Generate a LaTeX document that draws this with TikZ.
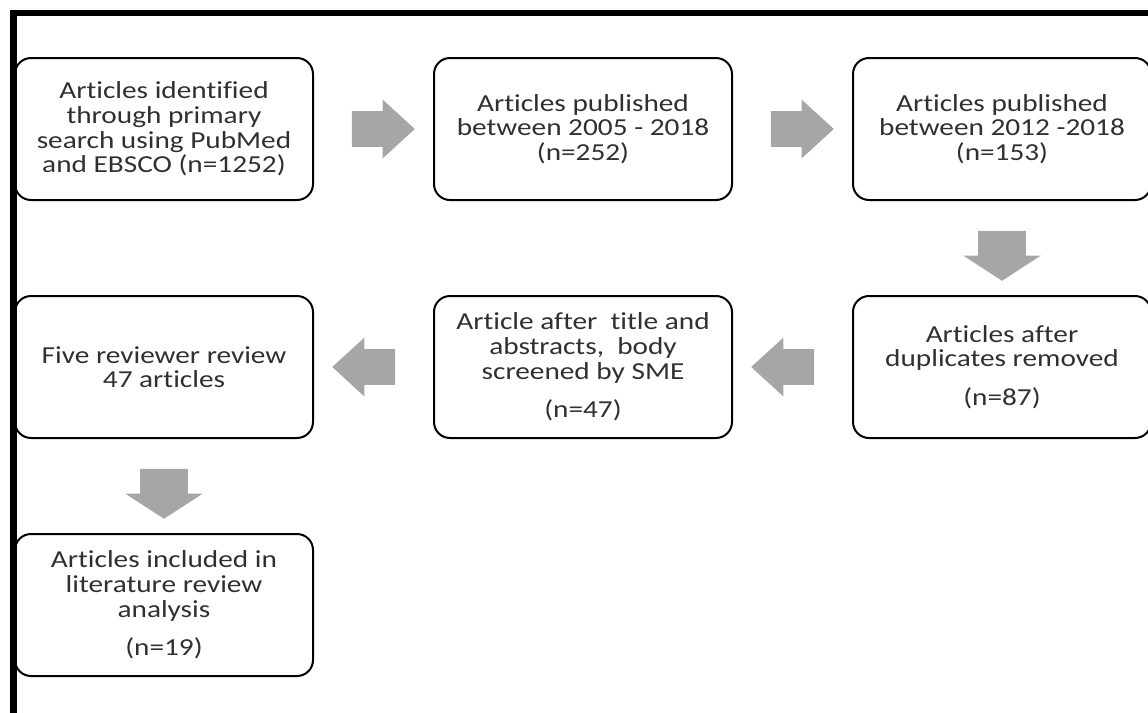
\documentclass[tikz,border=0pt]{standalone}
\usepackage{fontspec}
\newfontfamily\boxfont[FakeStretch=1.2, Ligatures=NoCommon]{Carlito}
\usepackage{tikz}
\usetikzlibrary{shapes,arrows,positioning,calc}
\definecolor{arrowgray}{RGB}{166,166,166}
\definecolor{textgray}{RGB}{48,48,48}
\tikzset{
  stage/.style={draw, line width=1pt, rectangle, rounded corners=8pt, minimum width=149pt, minimum height=71pt, align=center, text=textgray, font=\boxfont\fontsize{12.2}{12.3}\selectfont},
  flowarrow/.style={single arrow, draw=none, fill=arrowgray, inner xsep=0pt, inner ysep=8.75pt, single arrow head extend=5.75pt, single arrow tip angle=85, minimum width=1pt, minimum height=31.5pt},
  droparrow/.style={single arrow, draw=none, fill=arrowgray, inner xsep=0pt, inner ysep=11.75pt, single arrow head extend=7.5pt, single arrow tip angle=114, minimum width=1pt, minimum height=25pt, rotate=-90}
}
\begin{document}
\begin{tikzpicture}[x=0.5pt, y=-0.5pt, node distance=47pt and 59.5pt]
        \useasboundingbox (0,0) rectangle (1148,713);

        % Frame
        \coordinate (frameR) at (1148,13);
        \coordinate (frameC) at (13.5,13);
        \coordinate (frameB) at (13.5,713);
        \draw[line width=3.2pt] (frameR) -- (frameC) -- (frameB);

        % First row
        \node[stage] (primary) at (164,129) {Articles identified\\through primary\\search using PubMed\\and EBSCO (n=1252)};
        \node[stage] (pub0518) [right=of primary] {Articles published\\between 2005 - 2018\\(n=252)};
        \node[stage] (pub1218) [right=of pub0518] {Articles published\\between 2012 -2018\\(n=153)};

        % Second row
        \node[stage] (dedup) [below=of pub1218] {Articles after\\duplicates removed\\[7pt](n=87)};
        \node[stage] (screened) [below=of pub0518] {Article after~ title and\\abstracts,~ body\\screened by SME\\[7pt](n=47)};
        \node[stage] (reviewed) [below=of primary] {Five reviewer review\\47 articles};

        % Last box
        \node[stage] (included) [below=of reviewed] {Articles included in\\literature review\\analysis\\[7pt](n=19)};

        % Block arrows between the stages
        \node[flowarrow] (a1) at ($(primary.east)!0.5!(pub0518.west)$) {};
        \node[flowarrow] (a2) at ($(pub0518.east)!0.5!(pub1218.west)$) {};
        \node[droparrow] (a3) at ($(pub1218.south)!0.5!(dedup.north)$) {};
        \node[flowarrow, rotate=180] (a4) at ($(dedup.west)!0.5!(screened.east)$) {};
        \node[flowarrow, rotate=180] (a5) at ($(screened.west)!0.5!(reviewed.east)$) {};
        \node[droparrow] (a6) at ($(reviewed.south)!0.5!(included.north)$) {};
\end{tikzpicture}
\end{document}
